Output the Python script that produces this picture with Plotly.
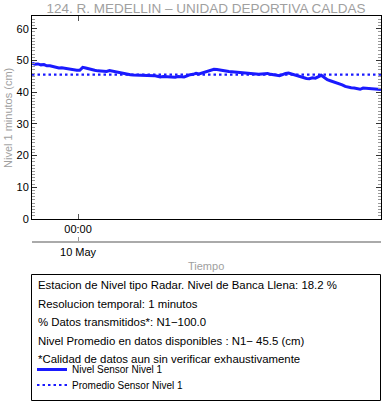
import pandas as pd
import plotly.graph_objects as go

# ---------------- data ----------------
nivel_values = [
    49.1, 48.8, 48.9, 48.6, 48.7, 48.3, 48.3, 48.1, 47.8, 47.6,
    47.7, 47.5, 47.4, 47.2, 47.0, 46.9, 46.9, 47.8, 47.6, 47.3,
    47.1, 46.9, 46.7, 46.6, 46.4, 46.5, 46.8, 46.6, 46.5, 46.3,
    46.0, 45.7, 45.6, 45.5, 45.4, 45.4, 45.3, 45.4, 45.3, 45.3,
    45.2, 45.2, 45.0, 44.8, 44.9, 44.8, 44.7, 44.8, 44.7, 44.9,
    44.8, 44.8, 45.1, 45.5, 45.6, 45.9, 45.7, 46.0, 46.3, 46.6,
    46.8, 47.2, 47.1, 46.9, 46.8, 46.6, 46.5, 46.4, 46.3, 46.2,
    46.2, 46.0, 46.1, 45.9, 45.8, 45.6, 45.6, 45.7, 45.8, 45.9,
    45.6, 45.5, 45.3, 45.2, 45.5, 45.9, 46.0, 45.7, 45.3, 45.2,
    44.9, 44.6, 44.3, 44.2, 44.5, 44.4, 44.8, 45.3, 44.6, 43.9,
    43.6, 43.3, 43.0, 42.8, 42.3, 41.8, 41.5, 41.4, 41.3, 41.0,
    40.9, 41.3, 41.2, 41.0, 41.1, 40.9, 40.8, 40.8,
]
promedio_value = 45.5
t_start = "2024-05-09 22:25"
t_end = "2024-05-10 10:25"
tick_time = ["2024-05-10 00:00"]
tick_hour_labels = ["00:00"]
tick_day_labels = ["10 May"]
y_tickvals = [0, 10, 20, 30, 40, 50, 60]

title_text = "124. R. MEDELLIN \u2013 UNIDAD DEPORTIVA CALDAS"
info_lines = [
    "Estacion de Nivel tipo Radar. Nivel de Banca Llena: 18.2 %",
    "Resolucion temporal: 1 minutos",
    "% Datos transmitidos*: N1\u2212100.0",
    "Nivel Promedio en datos disponibles : N1\u2212 45.5 (cm)",
    "*Calidad de datos aun sin verificar exhaustivamente",
]

times = pd.date_range(t_start, t_end, periods=len(nivel_values))

# ---------------- layout helpers (pixel -> paper) ----------------
W, H = 382, 404
ML, MR, MT, MB = 32, 1, 16, 162
PW = W - ML - MR
PH = H - MT - MB
def px_x(p):
    return (p - ML) / PW
def px_y(p):
    return (H - MB - p) / PH

plot_bottom_frac = px_y(219)

FONT = "Liberation Sans, Arial, Helvetica, sans-serif"
BLUE = "#1a1aff"

fig = go.Figure()
fig.add_trace(go.Scatter(
    x=times, y=nivel_values, mode="lines",
    line=dict(color=BLUE, width=3),
    name="Nivel Sensor Nivel 1", legend="legend",
))
fig.add_trace(go.Scatter(
    x=[times[0], times[-1]], y=[promedio_value, promedio_value], mode="lines",
    line=dict(color=BLUE, width=2.2, dash="2.5px,3px"),
    name="Promedio Sensor Nivel 1", legend="legend2",
))
# dummy trace to carry the secondary (date) axis
fig.add_trace(go.Scatter(
    x=[times[0], times[-1]], y=[None, None], xaxis="x2", mode="lines",
    showlegend=False, hoverinfo="skip",
))

legend_common = dict(
    x=px_x(32), xanchor="left", xref="paper", yref="paper", yanchor="middle",
    font=dict(size=10, color="black", family=FONT),
    bgcolor="rgba(0,0,0,0)", borderwidth=0, itemwidth=30,
)

fig.update_layout(
    width=W, height=H,
    margin=dict(l=ML, r=MR, t=MT, b=MB, pad=0),
    paper_bgcolor="white", plot_bgcolor="white",
    font=dict(family=FONT, size=11, color="black"),
    title=dict(text=title_text, x=px_x(206), xref="paper", xanchor="center",
               y=1 - 8 / H, yref="container", yanchor="middle",
               font=dict(size=13.5, color="#a0a0a0", family=FONT)),
    xaxis=dict(
        range=[times[0], times[-1]], automargin=False,
        tickvals=tick_time, ticktext=tick_hour_labels,
        ticks="inside", ticklen=5, tickcolor="#555",
        showline=True, linecolor="black", linewidth=1, mirror="ticks",
        showgrid=False, zeroline=False,
        tickfont=dict(size=11, color="black"),
        anchor="y",
    ),
    xaxis2=dict(
        overlaying="x", matches="x", anchor="free", position=0, side="bottom",
        automargin=False,
        tickvals=tick_time, ticktext=tick_day_labels,
        ticks="inside", ticklen=4, tickcolor="#999",
        showline=True, linecolor="#aaaaaa", linewidth=2,
        showgrid=False, zeroline=False,
        tickfont=dict(size=11, color="black"),
    ),
    yaxis=dict(
        domain=[plot_bottom_frac, 1], automargin=False,
        range=[0, 64],
        tickvals=y_tickvals,
        ticks="inside", ticklen=5, tickcolor="#333",
        minor=dict(dtick=1, ticks="inside", ticklen=3, tickcolor="#999"),
        showline=True, linecolor="black", linewidth=1, mirror="ticks",
        showgrid=False, zeroline=False,
        tickfont=dict(size=11, color="black"),
    ),
    showlegend=True,
    legend=dict(y=px_y(369.5), **legend_common),
    legend2=dict(y=px_y(385), **legend_common),
)

# axis title annotations
fig.add_annotation(text="Nivel 1 minutos (cm)", xref="paper", yref="paper",
                   x=px_x(8), y=px_y(118), xanchor="center", yanchor="middle",
                   textangle=-90, showarrow=False,
                   font=dict(size=11, color="#a0a0a0", family=FONT))
fig.add_annotation(text="Tiempo", xref="paper", yref="paper",
                   x=px_x(206), y=px_y(266), xanchor="center", yanchor="middle",
                   showarrow=False, font=dict(size=11, color="#a0a0a0", family=FONT))

# info box
fig.add_shape(type="rect", xref="paper", yref="paper",
              x0=px_x(31.5), x1=px_x(380.5), y0=px_y(400.5), y1=px_y(274.5),
              line=dict(color="black", width=1), fillcolor="rgba(0,0,0,0)")
line_y = [285, 303.5, 322, 340.5, 358.5]
for txt, yy in zip(info_lines, line_y):
    fig.add_annotation(text=txt, xref="paper", yref="paper",
                       x=px_x(36), y=px_y(yy), xanchor="left", yanchor="middle",
                       showarrow=False, font=dict(size=11.4, color="black", family=FONT))

fig.write_html(
    "out.html",
    config={"displayModeBar": False},
    post_script="document.body.style.margin='0';document.body.style.padding='0';",
)
